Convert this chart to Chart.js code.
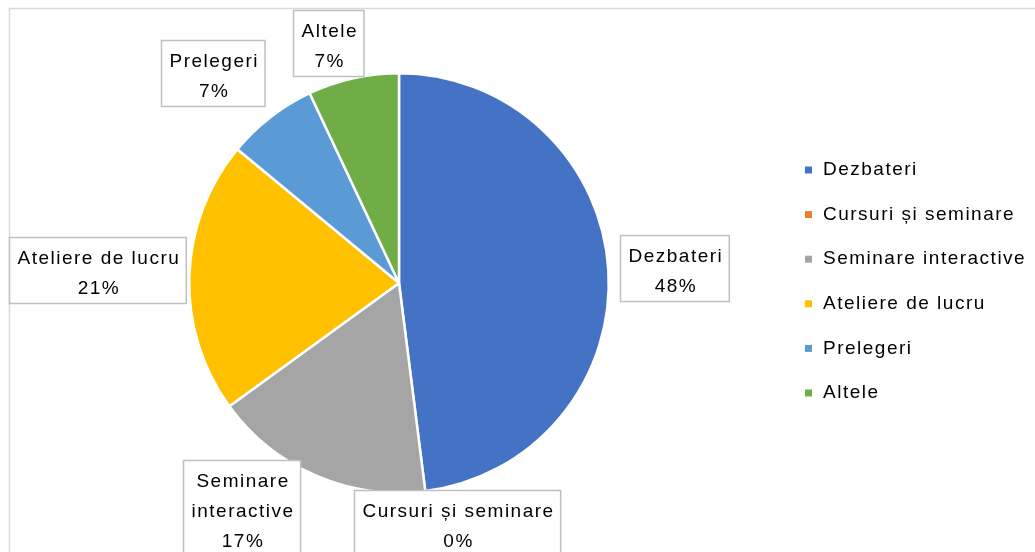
<!DOCTYPE html>
<html lang="ro">
<head>
    <meta charset="UTF-8">
    <title>Pie chart</title>
    <script src="https://cdn.jsdelivr.net/npm/chart.js"></script>
    <style>
        html, body { margin: 0; padding: 0; background: #fff; }
        #wrap { width: 1035px; height: 552px; position: relative; }
    </style>
</head>
<body>
    <div id="wrap"><canvas id="pie"></canvas></div>

    <script>
        // data
        const categories = ['Dezbateri', 'Cursuri și seminare', 'Seminare interactive', 'Ateliere de lucru', 'Prelegeri', 'Altele'];
        const values = [48, 0, 17, 21, 7, 7];
        const colors = ['#4472C4', '#ED7D31', '#A5A5A5', '#FFC000', '#5B9BD5', '#70AD47'];

        // label box tweaks (Excel puts them a bit off the plain radial spot)
        const wrapLabel = [false, false, true, false, false, false];
        const labelNudge = [[0, 1], [17, -13], [-46, -23], [8, -5], [-19, -9], [-15, 9]];

        // Calibri-ish widths: Arial metrics plus the wide Excel letter spacing
        const FONT = '19px "Liberation Sans", Arial, sans-serif';
        const SPACING = '1.5px';

        const boxLabels = {
            id: 'boxLabels',
            beforeDraw(chart) {
                const ctx = chart.ctx;
                ctx.save();
                ctx.strokeStyle = '#d9d9d9';
                ctx.lineWidth = 1.5;
                ctx.beginPath();
                ctx.moveTo(9.5, chart.height);
                ctx.lineTo(9.5, 8.5);
                ctx.lineTo(chart.width, 8.5);
                ctx.stroke();
                ctx.restore();
            },
            afterDatasetsDraw(chart) {
                const ctx = chart.ctx;
                const meta = chart.getDatasetMeta(0);
                const total = values.reduce((a, b) => a + b, 0);
                ctx.save();
                ctx.font = FONT;
                ctx.letterSpacing = SPACING;
                ctx.textAlign = 'center';
                ctx.textBaseline = 'middle';
                meta.data.forEach((arc, i) => {
                    const mid = (arc.startAngle + arc.endAngle) / 2;
                    const r = arc.outerRadius + 12;
                    const ax = arc.x + Math.cos(mid) * r;
                    const ay = arc.y + Math.sin(mid) * r;
                    const name = categories[i];
                    const lines = wrapLabel[i] ? name.split(' ') : [name];
                    lines.push(Math.round(values[i] / total * 100) + '%');
                    const w = Math.max(...lines.map(t => ctx.measureText(t).width)) + 14;
                    const h = 6 + lines.length * 30;
                    const cx = ax + Math.cos(mid) * w / 2 + labelNudge[i][0];
                    const cy = ay + Math.sin(mid) * h / 2 + labelNudge[i][1];
                    const left = Math.round(cx - w / 2) + 0.5;
                    const top = Math.round(cy - h / 2) + 0.5;
                    ctx.fillStyle = '#fff';
                    ctx.fillRect(left, top, w, h);
                    ctx.strokeStyle = '#bfbfbf';
                    ctx.lineWidth = 1.5;
                    ctx.strokeRect(left, top, w, h);
                    ctx.fillStyle = '#000';
                    lines.forEach((t, k) => ctx.fillText(t, left + w / 2 + 1, top + 21 + k * 30));
                });

                // legend
                ctx.textAlign = 'left';
                categories.forEach((c, i) => {
                    const y = 170 + i * 44.6;
                    ctx.fillStyle = colors[i];
                    ctx.fillRect(805, y - 3.5, 7, 7);
                    ctx.fillStyle = '#000';
                    ctx.fillText(c, 823, y);
                });
                ctx.restore();
            }
        };

        new Chart(document.getElementById('pie'), {
            type: 'pie',
            data: {
                labels: categories,
                datasets: [{
                    data: values,
                    backgroundColor: colors,
                    borderColor: '#fff',
                    borderWidth: 2.5
                }]
            },
            options: {
                responsive: true,
                maintainAspectRatio: false,
                animation: false,
                layout: { padding: { left: 188, right: 425, top: 72, bottom: 58 } },
                plugins: {
                    legend: { display: false },
                    tooltip: { enabled: false }
                }
            },
            plugins: [boxLabels]
        });
    </script>
</body>
</html>
